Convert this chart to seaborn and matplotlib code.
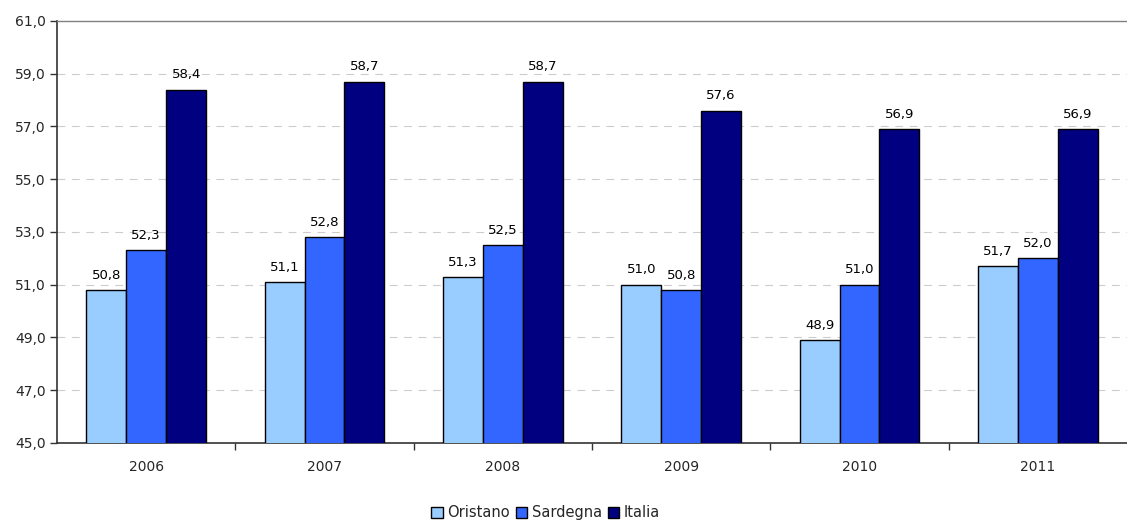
import matplotlib
matplotlib.use("Agg")
import matplotlib.pyplot as plt
from matplotlib.patches import Patch
from matplotlib.ticker import FixedLocator, FuncFormatter
import seaborn as sns
import pandas as pd

years = ["2006", "2007", "2008", "2009", "2010", "2011"]
series_names = ["Oristano", "Sardegna", "Italia"]
oristano = [50.8, 51.1, 51.3, 51.0, 48.9, 51.7]
sardegna = [52.3, 52.8, 52.5, 50.8, 51.0, 52.0]
italia = [58.4, 58.7, 58.7, 57.6, 56.9, 56.9]
colors = ["#99CCFF", "#3366FF", "#000080"]

rows = []
for name, vals in zip(series_names, [oristano, sardegna, italia]):
    for y, v in zip(years, vals):
        rows.append({"Anno": y, "Area": name, "Valore": v})
df = pd.DataFrame(rows)

sns.set_style("white")
plt.rcParams["font.family"] = ["DejaVu Sans"]

fig = plt.figure(figsize=(11.27, 5.25), dpi=100)
ax = fig.add_axes([0.0506, 0.1562, 0.9494, 0.8038])

sns.barplot(data=df, x="Anno", y="Valore", hue="Area", order=years,
            hue_order=series_names, palette=colors, saturation=1,
            width=0.672, edgecolor="black", linewidth=1.0, ax=ax,
            legend=False, errorbar=None, zorder=3)

ax.set_ylim(45, 61)
ax.set_xlim(-0.5, len(years) - 0.5)
ax.yaxis.set_major_locator(FixedLocator([45 + 2 * i for i in range(9)]))
ax.yaxis.set_major_formatter(FuncFormatter(lambda v, p: f"{v:.1f}".replace(".", ",")))
ax.set_xlabel("")
ax.set_ylabel("")

# value labels on every bar
for cont in ax.containers:
    labels = [f"{b.get_height():.1f}".replace(".", ",") for b in cont]
    ax.bar_label(cont, labels=labels, padding=6, fontsize=9.5, color="#000000")

# gridlines
for v in range(47, 61, 2):
    ax.axhline(v, color="#cccccc", linewidth=0.8, dashes=(7, 6), zorder=1)

ax.spines["right"].set_visible(False)
ax.spines["top"].set_color("#808080")
ax.spines["top"].set_linewidth(1.0)
for s in ["left", "bottom"]:
    ax.spines[s].set_color("#333333")
    ax.spines[s].set_linewidth(1.2)

ax.tick_params(axis="y", which="major", direction="out", length=5, width=1,
               color="#333333", labelsize=10, pad=3, left=True)
ax.tick_params(axis="x", which="major", length=0, labelsize=10, pad=12)
ax.xaxis.set_minor_locator(FixedLocator([i + 0.5 for i in range(len(years) - 1)]))
ax.tick_params(axis="x", which="minor", direction="out", length=5, width=1,
               color="#333333", bottom=True)

handles = [Patch(facecolor=c, edgecolor="black", linewidth=1.0, label=n)
           for c, n in zip(colors, series_names)]
fig.legend(handles=handles, loc="lower center", bbox_to_anchor=(0.484, -0.016),
           ncol=3, frameon=False, fontsize=10.5, handlelength=0.8,
           handleheight=0.8, handletextpad=0.3, columnspacing=0.4)

fig.savefig("out.png", dpi=100)
